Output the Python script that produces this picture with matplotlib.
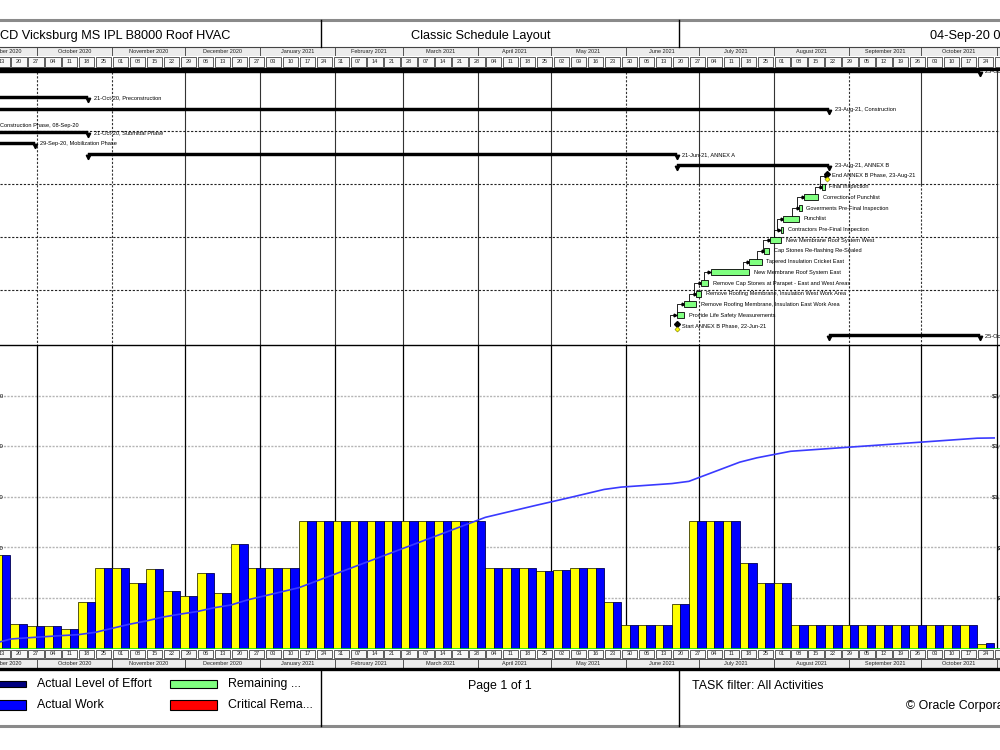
import matplotlib
matplotlib.use('Agg')
import matplotlib.pyplot as plt
import matplotlib.dates as mdates
from matplotlib.patches import Rectangle
import numpy as np
import pandas as pd

plt.rcParams['font.family'] = ['Liberation Sans', 'DejaVu Sans']

# ---------------- data ----------------
project_title = 'CD Vicksburg MS IPL B8000 Roof HVAC'
layout_name = 'Classic Schedule Layout'
data_date = '04-Sep-20 08:00'
page_text = 'Page 1 of 1'
filter_text = 'TASK filter: All Activities'
copyright_text = '\u00a9 Oracle Corporation'

week_starts = pd.date_range('2020-09-13', '2021-10-24', freq='7D')
budget_cost = [36800, 9800, 8700, 8700, 7600, 18400, 31800, 31800, 26000, 31400,
               22600, 20600, 30000, 21800, 41200, 31800, 31800, 31800,
               50600, 50600, 50600, 50600, 50600, 50600, 50600, 50600, 50600, 50600, 50600,
               31800, 31800, 31800, 30600, 31000, 31800, 31800,
               18400, 9400, 9400, 9400, 17400,
               50600, 50600, 50600, 34000, 26000, 26000,
               9400, 9400, 9400, 9400, 9400, 9400, 9400, 9400, 9400, 9400, 9400,
               1800]
actual_cost = [36800, 9800, 8700, 8700, 7600, 18400, 31800, 31800, 26000, 31400,
               22600, 20600, 30000, 21800, 41200, 31800, 31800, 31800,
               50600, 50600, 50600, 50600, 50600, 50600, 50600, 50600, 50600, 50600, 50600,
               31800, 31800, 31800, 30600, 31000, 31800, 31800,
               18400, 9400, 9400, 9400, 17400,
               50600, 50600, 50600, 34000, 26000, 26000,
               9400, 9400, 9400, 9400, 9400, 9400, 9400, 9400, 9400, 9400, 9400,
               2000]
prior_cumulative = 38000
left_ticks = [20000, 40000, 60000, 80000, 100000]
right_ticks = [400000, 800000, 1200000, 1600000, 2000000]

summary_labels = ['25-Oct-21, CD Vicksburg MS IPL B8000 Roof HVAC',
                  '21-Oct-20, Preconstruction',
                  '23-Aug-21, Construction',
                  '21-Oct-20, Submittal Phase',
                  '29-Sep-20, Mobilization Phase',
                  '21-Jun-21, ANNEX A',
                  '23-Aug-21, ANNEX B',
                  '25-Oct-21, Closeout']
summary_starts = ['2020-09-08', '2020-09-08', '2020-09-08', '2020-09-08',
                  '2020-09-08', '2020-10-22', '2021-06-22', '2021-08-24']
summary_ends = ['2021-10-25', '2020-10-22', '2021-08-24', '2020-10-22',
                '2020-09-30', '2021-06-22', '2021-08-24', '2021-10-25']

award_label = '08-Sep-20, Award'
award_date = '2020-09-08'
band_label = 'Construction Phase, 08-Sep-20'

activity_names = ['Final Inspection',
                  'Correction of Punchlist',
                  'Goverments Pre-Final Inspection',
                  'Punchlist',
                  'Contractors Pre-Final Inspection',
                  'New Membrane Roof System West',
                  'Cap Stones Re-flashing Re-Sealed',
                  'Tapered Insulation Cricket East',
                  'New Membrane Roof System East',
                  'Remove Cap Stones at Parapet - East and West Areas',
                  'Remove Roofing Membrane, Insulation West Work Area',
                  'Remove Roofing Membrane, Insulation East Work Area',
                  'Provide Life Safety Measurements']
activity_starts = ['2021-08-21', '2021-08-13 12:00', '2021-08-11 12:00', '2021-08-05',
                   '2021-08-04', '2021-07-30 12:00', '2021-07-28', '2021-07-22',
                   '2021-07-06', '2021-07-02', '2021-06-30', '2021-06-25', '2021-06-22']
activity_ends = ['2021-08-22', '2021-08-19 12:00', '2021-08-12 12:00', '2021-08-11 12:00',
                 '2021-08-05', '2021-08-04', '2021-07-30', '2021-07-27',
                 '2021-07-22', '2021-07-05', '2021-07-02', '2021-06-30', '2021-06-25']

milestone_names = ['End ANNEX B Phase, 23-Aug-21', 'Start ANNEX B Phase, 22-Jun-21']
milestone_dates = ['2021-08-23', '2021-06-22']

legend_names = ['Actual Level of Effort', 'Actual Work', 'Remaining ...', 'Critical Rema...']
legend_colors = ['#000080', '#0000ff', '#80ff80', '#ff0000']

# ---------------- layout ----------------
W, H = 1000, 750
fig = plt.figure(figsize=(10, 7.5), dpi=100)
t0 = mdates.date2num(pd.Timestamp('2020-09-15 16:00'))
t1 = mdates.date2num(pd.Timestamp('2021-11-02 10:00'))


def px_axes(x0, y0, x1, y1):
    ax = fig.add_axes([x0 / W, 1 - y1 / H, (x1 - x0) / W, (y1 - y0) / H])
    ax.set_xlim(t0, t1)
    ax.set_facecolor('none')
    for s in ax.spines.values():
        s.set_visible(False)
    ax.set_xticks([])
    ax.set_yticks([])
    return ax


def dn(s):
    return mdates.date2num(pd.Timestamp(s))


months = pd.date_range('2020-09-01', '2021-11-01', freq='MS')
all_weeks = pd.date_range('2020-09-06', '2021-10-31', freq='7D')
tiny = 4.1


def draw_month_row(ax):
    ax.set_ylim(0, 1)
    for m in months:
        nxt = m + pd.offsets.MonthBegin(1)
        a, b = mdates.date2num(m), mdates.date2num(nxt)
        ax.add_patch(Rectangle((a, 0.0), b - a, 1.0, facecolor='#ececec',
                               edgecolor='#555555', lw=0.7))
        ax.text((a + b) / 2, 0.5, m.strftime('%B %Y'), fontsize=4.0,
                ha='center', va='center', color='#222222')


def draw_week_row(ax):
    ax.set_ylim(0, 1)
    for w in all_weeks:
        a = mdates.date2num(w)
        ax.add_patch(Rectangle((a + 0.35, 0.1), 6.3, 0.8, facecolor='#f7f7f7',
                               edgecolor='#444444', lw=0.6))
        ax.text(a + 3.5, 0.5, w.strftime('%d'), fontsize=4.0, ha='center',
                va='center', color='#222222')


# top timescale
draw_month_row(px_axes(0, 46.5, 1000, 55.8))
draw_week_row(px_axes(0, 55.8, 1000, 67.8))
# bottom timescale
draw_week_row(px_axes(0, 648.5, 1000, 658.5))
draw_month_row(px_axes(0, 658.5, 1000, 668.3))

# ---------------- Gantt ----------------
g = px_axes(0, 68, 1000, 345)
g.set_ylim(345, 68)
dotted = (0, (2, 1.5))
solid_months = ['2020-12', '2021-01', '2021-02', '2021-03', '2021-04', '2021-05',
                '2021-08', '2021-11']
split_months = ['2021-07', '2021-10']
for m in months[1:]:
    x = mdates.date2num(m)
    key = m.strftime('%Y-%m')
    if key in solid_months:
        g.plot([x, x], [68, 345], color='#333333', lw=0.8, zorder=1)
    elif key in split_months:
        g.plot([x, x], [68, 183.5], color='#333333', lw=0.8, zorder=1)
        g.plot([x, x], [183.5, 345], color='#333333', lw=0.8, ls=dotted, zorder=1)
    else:
        g.plot([x, x], [68, 345], color='#333333', lw=0.8, ls=dotted, zorder=1)
for yy in [130.5, 183.5, 236.8, 289.5]:
    g.axhline(yy, color='#222222', lw=0.8, ls=dotted, zorder=1)

summary_y = [71.5, 97.5, 109.5, 132.5, 143.5, 154.5, 165.5, 335.5]
for lab, s, e, yy in zip(summary_labels, summary_starts, summary_ends, summary_y):
    a, b = dn(s), dn(e)
    g.add_patch(Rectangle((a, yy - 1.6), b - a, 3.2, facecolor='black',
                          edgecolor='black', lw=0.3, zorder=3))
    g.plot([a, b], [yy + 2.0, yy + 2.0], ls='none', marker='v', ms=3.2,
           color='black', zorder=3)
    g.annotate(lab, (b, yy), xytext=(4.0, 0), textcoords='offset points',
               fontsize=tiny, va='center', ha='left', zorder=4)

g.annotate(award_label, (dn(award_date), 84), xytext=(4.0, 0),
           textcoords='offset points', fontsize=tiny, va='center', ha='left')
g.text(t0, 126, band_label, fontsize=tiny, va='center', ha='left')

row_step = 10.7
act_y = [176 + row_step * (i + 1) for i in range(len(activity_names))]
for name, s, e, yy in zip(activity_names, activity_starts, activity_ends, act_y):
    a, b = dn(s), dn(e)
    g.add_patch(Rectangle((a, yy - 3), max(b - a, 0.5), 6, facecolor='#80ff80',
                          edgecolor='black', lw=0.6, zorder=3))
    g.annotate(name, (b, yy), xytext=(3.5, 0), textcoords='offset points',
               fontsize=tiny, va='center', ha='left', zorder=4)

ms_y = [176, 176 + row_step * (len(activity_names) + 1)]
for name, d, yy in zip(milestone_names, milestone_dates, ms_y):
    x = dn(d)
    g.plot(x, yy - 2, marker='D', ms=3.0, color='black', zorder=5)
    g.plot(x, yy + 3.2, marker='D', ms=2.6, color='#ffff00', mec='#707000',
           mew=0.4, zorder=5)
    g.annotate(name, (x, yy), xytext=(3.5, 0), textcoords='offset points',
               fontsize=tiny, va='center', ha='left', zorder=4)

# relationship links (bottom-up chain)
chain_x_start = [dn(milestone_dates[1])] + [dn(s) for s in activity_starts[::-1]] + [dn(milestone_dates[0])]
chain_y = [ms_y[1]] + act_y[::-1] + [ms_y[0]]
for i in range(1, len(chain_y)):
    xs = chain_x_start[i]
    xv = xs - 2.8
    g.plot([xv, xv, xs], [chain_y[i - 1], chain_y[i], chain_y[i]], color='black',
           lw=0.6, zorder=2)
    g.plot(xs - 0.6, chain_y[i], marker='>', ms=2.0, color='black', zorder=2)

# ---------------- histogram ----------------
h = px_axes(0, 345, 1000, 648.5)
h.set_ylim(0, 120000)
for v in left_ticks:
    h.axhline(v, color='#b5b5b5', lw=1.0, ls=(0, (1.5, 1)), zorder=1)
    h.annotate('${:,}'.format(v), (0, v), xycoords=('axes fraction', 'data'),
               xytext=(3.0, 0), textcoords='offset points', ha='right',
               va='center', fontsize=4.3, annotation_clip=False)
for m in months[1:]:
    h.axvline(mdates.date2num(m), color='black', lw=0.9, zorder=1)

wk = mdates.date2num(week_starts)
h.bar(wk, budget_cost, width=3.5, align='edge', color='#ffff00',
      edgecolor='#3a3a00', lw=0.6, zorder=3)
h.bar(wk + 3.5, actual_cost, width=3.5, align='edge', color='#0000ff',
      edgecolor='#000050', lw=0.6, zorder=3)
h.axhline(0, color='#00ee00', lw=1.8, zorder=4)

h2 = h.twinx()
h2.set_xlim(t0, t1)
h2.set_ylim(0, 2400000)
h2.set_facecolor('none')
for s in h2.spines.values():
    s.set_visible(False)
h2.set_xticks([])
h2.set_yticks([])
cum_x = np.concatenate([[wk[0]], wk + 7])
cum_y = np.concatenate([[prior_cumulative], prior_cumulative + np.cumsum(actual_cost)])
h2.plot(cum_x, cum_y, color='#3a3aff', lw=1.2, zorder=5)
for v in right_ticks:
    h2.annotate('${:,}'.format(v), (1, v), xycoords=('axes fraction', 'data'),
                xytext=(16.0, 0), textcoords='offset points', ha='right',
                va='center', fontsize=4.3, annotation_clip=False)

# ---------------- frame, header, legend ----------------
f = fig.add_axes([0, 0, 1, 1])
f.set_xlim(0, W)
f.set_ylim(H, 0)
f.axis('off')
f.patch.set_alpha(0)
f.plot([0, W], [20, 20], color='#8a8a8a', lw=2.2)
f.plot([0, W], [46.5, 46.5], color='#444444', lw=0.8)
f.plot([321, 321], [20, 46.5], color='black', lw=1.0)
f.plot([679, 679], [20, 46.5], color='black', lw=1.0)
f.plot([0, W], [68.8, 68.8], color='black', lw=2.4)
f.plot([0, W], [345, 345], color='black', lw=1.0)
f.plot([0, W], [669, 669], color='black', lw=2.4)
f.plot([0, W], [726, 726], color='#8a8a8a', lw=2.2)
f.plot([321, 321], [669, 726], color='black', lw=1.0)
f.plot([679, 679], [669, 726], color='black', lw=1.0)

f.text(0, 36, project_title, fontsize=9.2, va='center', ha='left')
f.text(481, 36, layout_name, fontsize=9.2, va='center', ha='center')
f.text(930, 36, data_date, fontsize=9.2, va='center', ha='left')

# legend
sw = [(-20, 681, 46, 6), (-20, 700, 46, 10), (170, 679.5, 47, 8.5), (170, 700, 47, 10)]
tx = [(37, 684), (37, 705), (228, 684), (228, 705)]
for (x, y, w_, h_), (xt, yt), name, c in zip(sw, tx, legend_names, legend_colors):
    f.add_patch(Rectangle((x, y), w_, h_, facecolor=c, edgecolor='black', lw=0.8))
    f.text(xt, yt, name, fontsize=8.9, va='center', ha='left')
f.text(468, 686, page_text, fontsize=8.9, va='center', ha='left')
f.text(692, 686, filter_text, fontsize=8.9, va='center', ha='left')
f.text(906, 706, copyright_text, fontsize=8.9, va='center', ha='left')

fig.savefig('out.png', dpi=100)
